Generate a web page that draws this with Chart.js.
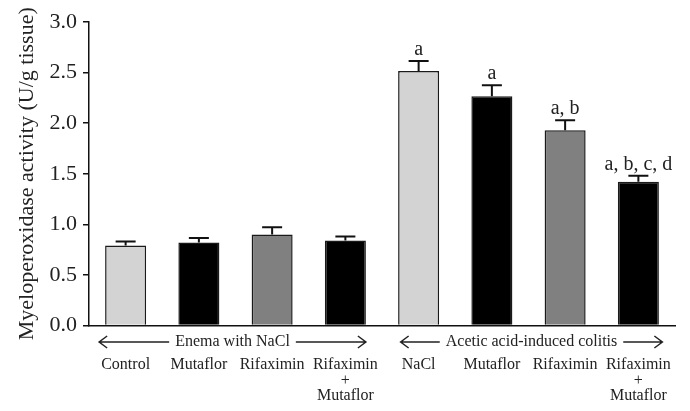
<!DOCTYPE html>
<html>
<head>
<meta charset="utf-8">
<script src="https://cdn.jsdelivr.net/npm/chart.js@4"></script>
<style>
html,body{margin:0;padding:0;background:#fff;}
#wrap{width:690px;height:411px;position:relative;}
</style>
</head>
<body>
<div id="wrap"><canvas id="c" width="690" height="411"></canvas></div>
<script>
const categories = ["Control", "Mutaflor", "Rifaximin", ["Rifaximin", "+", "Mutaflor"],
                    "NaCl", "Mutaflor", "Rifaximin", ["Rifaximin", "+", "Mutaflor"]];
const mpoValues = [0.79, 0.82, 0.90, 0.84, 2.515, 2.265, 1.93, 1.42];
const mpoErrors = [0.04, 0.045, 0.07, 0.04, 0.10, 0.11, 0.10, 0.06];
const sigLabels = ["", "", "", "", "a", "a", "a, b", "a, b, c, d"];
const barColors = ["#d3d3d3", "#000000", "#808080", "#000000", "#d3d3d3", "#000000", "#808080", "#000000"];
const groupLabels = ["Enema with NaCl", "Acetic acid-induced colitis"];
const groupRanges = [[0, 3], [4, 7]];
const yTicks = [0, 0.5, 1.0, 1.5, 2.0, 2.5, 3.0];
const yTitle = "Myeloperoxidase activity (U/g tissue)";

const FONT = "'Liberation Serif', 'DejaVu Serif', serif";
const INK = "#222";

const errorBarPlugin = {
  id: 'errorBars',
  afterDatasetsDraw(chart) {
    const ctx = chart.ctx;
    const xs = chart.scales.x, ys = chart.scales.y;
    ctx.save();
    ctx.strokeStyle = '#111';
    ctx.lineWidth = 2;
    mpoValues.forEach((v, i) => {
      const x = xs.getPixelForValue(i);
      const y0 = ys.getPixelForValue(v);
      const y1 = ys.getPixelForValue(v + mpoErrors[i]);
      ctx.beginPath();
      ctx.moveTo(x, y0); ctx.lineTo(x, y1);
      ctx.moveTo(x - 10, y1); ctx.lineTo(x + 10, y1);
      ctx.stroke();
      if (sigLabels[i]) {
        ctx.fillStyle = INK;
        ctx.font = "20px " + FONT;
        ctx.textAlign = 'center';
        ctx.textBaseline = 'alphabetic';
        ctx.fillText(sigLabels[i], x, y1 - 6);
      }
    });
    // group labels with arrows
    const gy = 342;
    const tipOffsets = [[-26.5, 20.5], [-18, 24]];
    ctx.font = "16px " + FONT;
    ctx.fillStyle = INK;
    ctx.strokeStyle = INK;
    ctx.lineWidth = 1.5;
    groupLabels.forEach((g, k) => {
      const xl = xs.getPixelForValue(groupRanges[k][0]) + tipOffsets[k][0];
      const xr = xs.getPixelForValue(groupRanges[k][1]) + tipOffsets[k][1];
      const mid = (xl + xr) / 2;
      const w = ctx.measureText(g).width;
      ctx.textAlign = 'center';
      ctx.textBaseline = 'middle';
      ctx.fillText(g, mid, gy);
      const tl = mid - w / 2 - 6, tr = mid + w / 2 + 6;
      ctx.beginPath();
      ctx.moveTo(xl, gy); ctx.lineTo(tl, gy);
      ctx.moveTo(xl + 8, gy - 6); ctx.lineTo(xl, gy); ctx.lineTo(xl + 8, gy + 6);
      ctx.moveTo(tr, gy); ctx.lineTo(xr, gy);
      ctx.moveTo(xr - 8, gy - 6); ctx.lineTo(xr, gy); ctx.lineTo(xr - 8, gy + 6);
      ctx.stroke();
    });
    ctx.restore();
  }
};

new Chart(document.getElementById('c'), {
  type: 'bar',
  data: {
    labels: categories,
    datasets: [{
      data: mpoValues,
      backgroundColor: barColors,
      borderColor: '#1a1a1a',
      borderWidth: 1.5,
      barPercentage: 0.56,
      categoryPercentage: 1.0
    }]
  },
  options: {
    responsive: false,
    animation: false,
    events: [],
    layout: { padding: { left: 0, top: 22, right: 15, bottom: 0 } },
    plugins: { legend: { display: false }, tooltip: { enabled: false } },
    scales: {
      x: {
        offset: true,
        grid: { display: false },
        border: { display: true, color: '#111', width: 1.5 },
        ticks: {
          color: INK,
          font: { family: FONT, size: 16, lineHeight: 0.95 },
          padding: 24,
          maxRotation: 0,
          minRotation: 0,
          autoSkip: false
        },
        afterFit(scale) { scale.height = 85.5; scale.paddingLeft = 0; scale.paddingRight = 0; }
      },
      y: {
        min: 0, max: 3,
        afterBuildTicks(scale) { scale.ticks = yTicks.map(v => ({ value: v })); },
        grid: { display: true, drawOnChartArea: false, drawTicks: true, tickLength: 6, color: '#111', lineWidth: 1.5 },
        border: { display: true, color: '#111', width: 1.5 },
        ticks: {
          color: INK,
          font: { family: FONT, size: 22 },
          padding: 6,
          callback: v => Number(v).toFixed(1)
        },
        title: {
          display: true,
          text: yTitle,
          color: INK,
          font: { family: FONT, size: 22 },
          padding: { top: 14, bottom: 0 }
        },
        afterFit(scale) { scale.width = 89; scale.paddingTop = 0; scale.paddingBottom = 0; }
      }
    }
  },
  plugins: [errorBarPlugin]
});
</script>
</body>
</html>
